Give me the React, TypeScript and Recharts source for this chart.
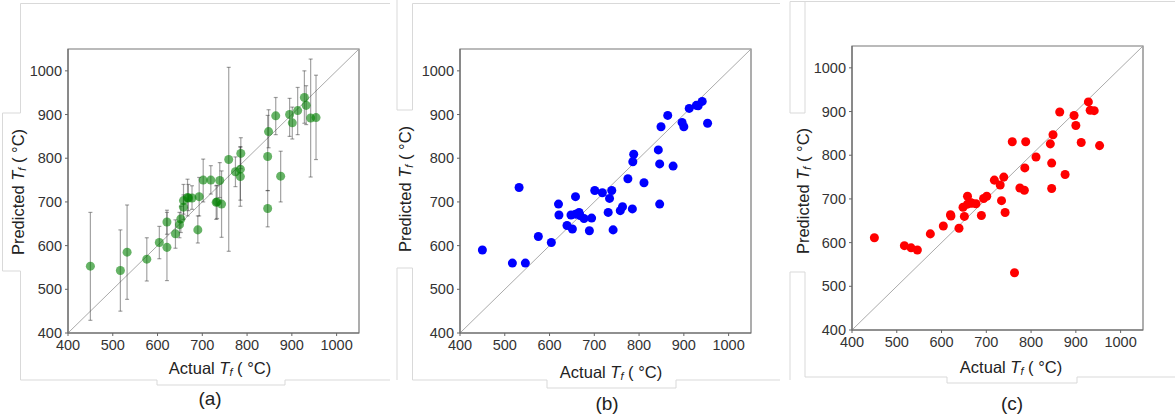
import React from "react";
import {
  ScatterChart,
  Scatter,
  XAxis,
  YAxis,
  ZAxis,
  ErrorBar,
  ReferenceLine,
  ReferenceArea,
} from "recharts";

// panel (a): predictions with uncertainty range
const actualA = [450, 517, 532, 576, 604, 621, 621, 640, 649, 652, 658, 658, 667, 669, 677, 690, 693, 702, 719, 731, 733, 739, 743, 759, 774, 786, 785, 785, 848, 846, 846, 864, 875, 895, 901, 913, 928, 932, 942, 954];
const predictedA = [553, 543, 585, 569, 607, 654, 596, 627, 648, 661, 688, 703, 710, 709, 709, 636, 712, 750, 750, 699, 700, 749, 695, 797, 769, 811, 775, 758, 861, 804, 685, 897, 759, 900, 881, 909, 939, 921, 892, 893];
const lowerA = [429, 450, 477, 519, 570, 626, 520, 594, 618, 630, 660, 672, 668, 680, 683, 606, 668, 700, 718, 660, 662, 710, 619, 587, 735, 776, 704, 690, 824, 726, 643, 854, 700, 850, 844, 854, 880, 877, 757, 797];
const upperA = [676, 636, 693, 618, 644, 681, 676, 659, 676, 690, 716, 740, 752, 740, 737, 668, 756, 798, 783, 737, 738, 790, 771, 1008, 803, 847, 826, 826, 911, 898, 726, 939, 816, 937, 917, 962, 1000, 966, 1027, 990];

// panels (b) and (c) share the same actual values
const actualBC = [450, 517, 532, 546, 575, 604, 620, 621, 639, 648, 651, 658, 658, 666, 668, 677, 689, 694, 701, 718, 731, 734, 739, 742, 758, 763, 775, 785, 786, 788, 811, 843, 846, 846, 849, 864, 876, 896, 900, 912, 928, 932, 941, 953];
const predictedB = [590, 560, 733, 560, 621, 607, 695, 670, 646, 670, 638, 712, 672, 676, 669, 662, 634, 663, 726, 721, 676, 708, 726, 636, 680, 689, 753, 684, 792, 809, 744, 819, 787, 695, 872, 898, 782, 882, 872, 914, 921, 920, 930, 880];
const predictedC = [611, 593, 588, 583, 620, 638, 664, 661, 633, 681, 660, 706, 688, 691, 690, 689, 662, 701, 706, 743, 732, 696, 750, 669, 831, 531, 725, 720, 771, 831, 796, 826, 782, 724, 847, 899, 756, 891, 868, 829, 922, 903, 902, 822];

const ticks = [400, 500, 600, 700, 800, 900, 1000];
const domain: [number, number] = [400, 1050];

const dataA = actualA.map((x, i) => ({
  x,
  y: predictedA[i],
  err: [predictedA[i] - lowerA[i], upperA[i] - predictedA[i]],
}));
const dataB = actualBC.map((x, i) => ({ x, y: predictedB[i] }));
const dataC = actualBC.map((x, i) => ({ x, y: predictedC[i] }));

const FONT = '"Liberation Sans", Arial, sans-serif';
const tickStyle = { fill: "#333", fontSize: 14.5, fontFamily: FONT };

type PanelProps = {
  data: any[];
  color: string;
  opacity: number;
  left: number;
  width: number;
  margin: { top: number; right: number; bottom: number; left: number };
  errors?: boolean;
};

const Panel: React.FC<PanelProps> = ({ data, color, opacity, left, width, margin, errors }) => (
  <div style={{ position: "absolute", left, top: 0 }}>
    <ScatterChart width={width} height={400} margin={margin}>
      <XAxis
        type="number"
        dataKey="x"
        domain={domain}
        ticks={ticks}
        height={30}
        tick={tickStyle}
        tickSize={3}
        tickMargin={4}
        stroke="#666"
        allowDataOverflow
      />
      <YAxis
        type="number"
        dataKey="y"
        domain={domain}
        ticks={ticks}
        width={50}
        tick={tickStyle}
        tickSize={3}
        tickMargin={3}
        stroke="#666"
        allowDataOverflow
      />
      <ZAxis range={[44, 44]} />
      <ReferenceArea x1={400} x2={1050} y1={400} y2={1050} fill="none" stroke="#777" strokeWidth={1.2} ifOverflow="visible" />
      <ReferenceLine
        segment={[
          { x: 400, y: 400 },
          { x: 1050, y: 1050 },
        ]}
        stroke="#a0a0a0"
        strokeWidth={0.9}
      />
      <Scatter data={data} fill={color} fillOpacity={opacity} isAnimationActive={false}>
        {errors && (
          <ErrorBar dataKey="err" direction="y" width={2} stroke="#333" strokeOpacity={0.45} strokeWidth={1.2} />
        )}
      </Scatter>
    </ScatterChart>
  </div>
);

const labels = [
  { xl: [220, 368], yl: [18, 192], cap: [210, 398], name: "(a)" },
  { xl: [611, 372], yl: [405, 189], cap: [607, 403], name: "(b)" },
  { xl: [1011, 367], yl: [803, 191], cap: [1012, 403], name: "(c)" },
];

const AxisText: React.FC<{ word: string; x: number; y: number; rotate?: boolean }> = ({ word, x, y, rotate }) => (
  <text
    x={x}
    y={y}
    textAnchor="middle"
    dominantBaseline="central"
    fontSize={16.5}
    fontFamily={FONT}
    fill="#222"
    transform={rotate ? `rotate(-90 ${x} ${y})` : undefined}
  >
    {word} <tspan fontStyle="italic">T</tspan>
    <tspan fontSize={11} fontStyle="italic" dy={4}>f</tspan>
    <tspan dy={-4}> ( °C)</tspan>
  </text>
);

export default function App() {
  return (
    <div style={{ position: "absolute", left: 0, top: 0, width: 1175, height: 415, background: "#fff", fontFamily: FONT }}>
      {/* faint panel frames */}
      <svg width={1175} height={415} style={{ position: "absolute", left: 0, top: 0 }}>
        <g fill="none" stroke="#d9d9d9" strokeWidth={1}>
          <path d="M390,3.5 H20.5 V113 H2.5 V271 H20.5 V380 H157 V385 H285 V380 H390" />
          <path d="M397,0 V110 H412.5 M412.5,3.5 V110 M412.5,3.5 H780" />
          <path d="M397,380 V268 H412.5 V380 M412.5,380 H547 V388 H676 V380 H780" />
          <path d="M790,1.5 V113 H805 M805,1.5 V113 M790,1.5 H1175" />
          <path d="M790,380 V272 H805 V377 M805,377 H947 V383 H1077 V377 H1175" />
        </g>
      </svg>
      <Panel
        data={dataA}
        color="#008000"
        opacity={0.6}
        left={0}
        width={390}
        errors
        margin={{ top: 49, right: 31, bottom: 37, left: 18 }}
      />
      <Panel
        data={dataB}
        color="#0000ff"
        opacity={1}
        left={390}
        width={390}
        margin={{ top: 49, right: 29, bottom: 37, left: 20 }}
      />
      <Panel
        data={dataC}
        color="#ff0000"
        opacity={1}
        left={780}
        width={395}
        margin={{ top: 46, right: 32, bottom: 40, left: 22 }}
      />
      <svg width={1175} height={415} style={{ position: "absolute", left: 0, top: 0, pointerEvents: "none" }}>
        {labels.map((l) => (
          <g key={l.name}>
            <AxisText word="Actual" x={l.xl[0]} y={l.xl[1]} />
            <AxisText word="Predicted" x={l.yl[0]} y={l.yl[1]} rotate />
            <text
              x={l.cap[0]}
              y={l.cap[1]}
              textAnchor="middle"
              dominantBaseline="central"
              fontSize={19}
              fontFamily={FONT}
              fill="#222"
            >
              {l.name}
            </text>
          </g>
        ))}
      </svg>
    </div>
  );
}
